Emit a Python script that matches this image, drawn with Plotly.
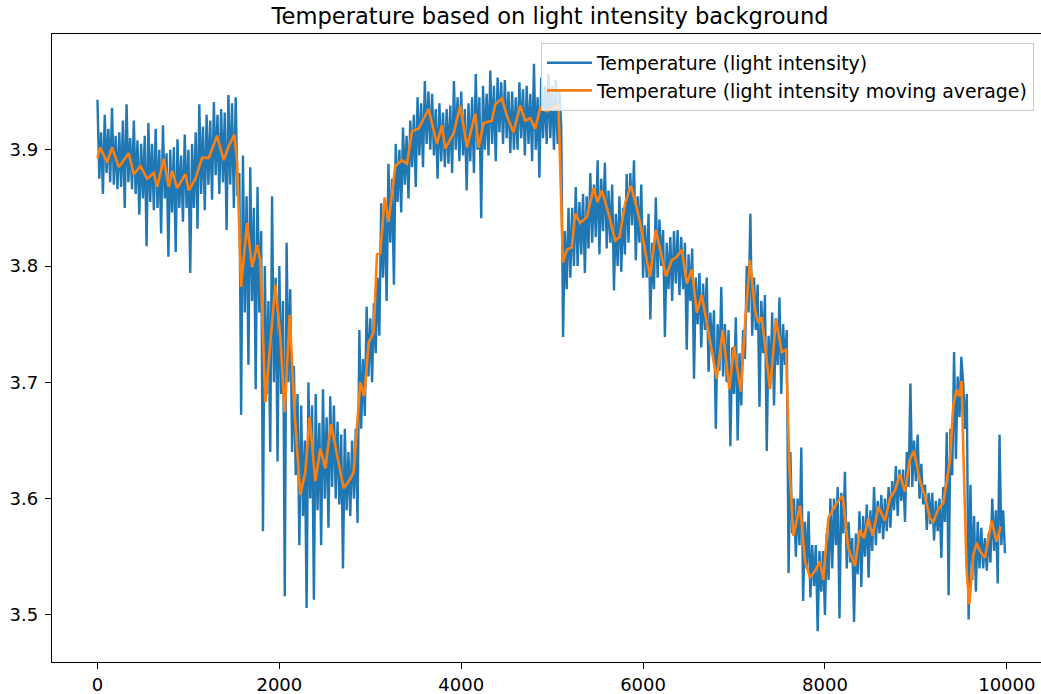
import plotly.graph_objects as go

# Sample index of the raw readings (every 20th sample)
raw_index = list(range(0, 10000, 20))

# Temperature readings derived from the light-intensity background
temp_raw = [
    3.943, 3.875, 3.915, 3.862, 3.930, 3.880, 3.918, 3.872, 3.936, 3.870, 3.912, 3.866,
    3.915, 3.868, 3.925, 3.850, 3.939, 3.872, 3.910, 3.866, 3.925, 3.862, 3.908, 3.844,
    3.905, 3.858, 3.912, 3.817, 3.923, 3.855, 3.905, 3.848, 3.918, 3.850, 3.900, 3.828,
    3.921, 3.858, 3.897, 3.808, 3.900, 3.846, 3.902, 3.812, 3.909, 3.850, 3.895, 3.838,
    3.913, 3.850, 3.900, 3.794, 3.905, 3.850, 3.915, 3.832, 3.939, 3.862, 3.920, 3.848,
    3.930, 3.870, 3.925, 3.857, 3.941, 3.878, 3.930, 3.862, 3.935, 3.872, 3.932, 3.831,
    3.947, 3.870, 3.940, 3.850, 3.945, 3.860, 3.880, 3.672, 3.895, 3.760, 3.860, 3.715,
    3.885, 3.770, 3.850, 3.694, 3.868, 3.760, 3.830, 3.572, 3.800, 3.690, 3.770, 3.640,
    3.860, 3.700, 3.790, 3.632, 3.800, 3.690, 3.770, 3.516, 3.820, 3.700, 3.780, 3.640,
    3.714, 3.620, 3.690, 3.560, 3.680, 3.585, 3.650, 3.506, 3.700, 3.600, 3.680, 3.513,
    3.690, 3.590, 3.665, 3.560, 3.694, 3.600, 3.670, 3.575, 3.688, 3.610, 3.680, 3.600,
    3.666, 3.595, 3.655, 3.540, 3.660, 3.590, 3.640, 3.585, 3.650, 3.600, 3.660, 3.579,
    3.745, 3.660, 3.720, 3.671, 3.765, 3.705, 3.755, 3.700, 3.768, 3.725, 3.790, 3.740,
    3.854, 3.790, 3.850, 3.770, 3.888, 3.820, 3.875, 3.784, 3.905, 3.855, 3.900, 3.846,
    3.919, 3.870, 3.912, 3.858, 3.925, 3.885, 3.930, 3.868, 3.945, 3.895, 3.940, 3.885,
    3.959, 3.905, 3.950, 3.900, 3.948, 3.895, 3.935, 3.875, 3.940, 3.890, 3.932, 3.885,
    3.935, 3.888, 3.938, 3.880, 3.959, 3.900, 3.945, 3.890, 3.950, 3.895, 3.935, 3.865,
    3.940, 3.890, 3.945, 3.880, 3.965, 3.900, 3.945, 3.841, 3.955, 3.900, 3.948, 3.895,
    3.968, 3.905, 3.955, 3.890, 3.962, 3.915, 3.958, 3.905, 3.960, 3.910, 3.950, 3.897,
    3.950, 3.900, 3.945, 3.900, 3.958, 3.910, 3.952, 3.895, 3.955, 3.905, 3.948, 3.890,
    3.974, 3.900, 3.945, 3.876, 3.962, 3.910, 3.955, 3.905, 3.965, 3.910, 3.955, 3.900,
    3.960, 3.905, 3.950, 3.920, 3.739, 3.830, 3.780, 3.850, 3.790, 3.850, 3.800, 3.868,
    3.800, 3.855, 3.810, 3.862, 3.794, 3.860, 3.815, 3.880, 3.820, 3.870, 3.825, 3.891,
    3.810, 3.875, 3.830, 3.889, 3.815, 3.865, 3.820, 3.870, 3.779, 3.845, 3.800, 3.860,
    3.795, 3.850, 3.810, 3.879, 3.820, 3.880, 3.835, 3.891, 3.805, 3.860, 3.820, 3.870,
    3.790, 3.835, 3.790, 3.845, 3.754, 3.820, 3.780, 3.859, 3.790, 3.840, 3.800, 3.831,
    3.739, 3.820, 3.780, 3.825, 3.770, 3.830, 3.785, 3.831, 3.775, 3.825, 3.780, 3.820,
    3.728, 3.810, 3.770, 3.815, 3.703, 3.790, 3.750, 3.794, 3.730, 3.785, 3.745, 3.790,
    3.709, 3.760, 3.725, 3.762, 3.660, 3.750, 3.710, 3.782, 3.705, 3.750, 3.700, 3.745,
    3.645, 3.730, 3.690, 3.756, 3.650, 3.725, 3.680, 3.745, 3.720, 3.800, 3.760, 3.845,
    3.740, 3.790, 3.745, 3.784, 3.679, 3.770, 3.725, 3.775, 3.641, 3.740, 3.700, 3.760,
    3.680, 3.755, 3.715, 3.773, 3.690, 3.750, 3.715, 3.745, 3.536, 3.640, 3.570, 3.600,
    3.550, 3.600, 3.560, 3.644, 3.512, 3.580, 3.540, 3.589, 3.515, 3.560, 3.525, 3.560,
    3.486, 3.555, 3.520, 3.555, 3.500, 3.570, 3.530, 3.600, 3.540, 3.600, 3.560, 3.610,
    3.497, 3.605, 3.570, 3.623, 3.540, 3.580, 3.545, 3.566, 3.494, 3.570, 3.535, 3.589,
    3.524, 3.585, 3.550, 3.595, 3.532, 3.590, 3.555, 3.610, 3.560, 3.598, 3.570, 3.603,
    3.565, 3.600, 3.572, 3.610, 3.575, 3.615, 3.590, 3.628, 3.585, 3.625, 3.598, 3.625,
    3.580, 3.640, 3.610, 3.699, 3.610, 3.650, 3.615, 3.655, 3.600, 3.630, 3.595, 3.612,
    3.573, 3.605, 3.578, 3.605, 3.564, 3.598, 3.572, 3.600, 3.549, 3.610, 3.580, 3.657,
    3.517, 3.660, 3.620, 3.726, 3.634, 3.705, 3.670, 3.722, 3.700, 3.660, 3.690, 3.496,
    3.612, 3.530, 3.585, 3.520, 3.580, 3.540, 3.575, 3.540, 3.566, 3.538, 3.570, 3.545,
    3.600, 3.555, 3.590, 3.527, 3.655, 3.560, 3.590, 3.553,
]

# Moving average of the same signal
ma_index = [
    0, 30, 106, 161, 234, 344, 399, 473, 546, 619, 656, 729, 784, 821, 876, 967, 1004, 1077,
    1150, 1224, 1315, 1388, 1443, 1505, 1535, 1580, 1645, 1700, 1755, 1791, 1846, 1901, 1956,
    2011, 2059, 2114, 2165, 2231, 2286, 2333, 2396, 2451, 2506, 2568, 2634, 2707, 2780, 2817,
    2890, 2934, 2982, 3037, 3074, 3110, 3158, 3202, 3275, 3349, 3404, 3459, 3531, 3641, 3733,
    3788, 3824, 3916, 3989, 4063, 4154, 4191, 4246, 4337, 4374, 4448, 4503, 4575, 4649, 4704,
    4759, 4814, 4869, 4942, 5015, 5070, 5118, 5162, 5217, 5253, 5308, 5382, 5455, 5499, 5547,
    5620, 5693, 5741, 5803, 5866, 5931, 5968, 6041, 6078, 6140, 6187, 6253, 6316, 6371, 6426,
    6481, 6536, 6591, 6646, 6737, 6810, 6876, 6949, 7000, 7074, 7122, 7176, 7231, 7268, 7305,
    7341, 7396, 7462, 7525, 7572, 7609, 7653, 7726, 7781, 7836, 7891, 7946, 7982, 8037, 8111,
    8166, 8195, 8257, 8331, 8385, 8429, 8477, 8525, 8587, 8660, 8715, 8770, 8825, 8880, 8935,
    8979, 9045, 9100, 9155, 9191, 9246, 9301, 9338, 9374, 9411, 9448, 9477, 9503, 9528, 9558,
    9587, 9631, 9668, 9704, 9759, 9833, 9888, 9932,
]
temp_ma = [
    3.893, 3.902, 3.889, 3.902, 3.885, 3.897, 3.879, 3.886, 3.875, 3.880, 3.868, 3.892, 3.868,
    3.882, 3.867, 3.879, 3.865, 3.875, 3.893, 3.893, 3.912, 3.891, 3.903, 3.913, 3.890, 3.782,
    3.837, 3.799, 3.818, 3.805, 3.683, 3.737, 3.784, 3.739, 3.674, 3.758, 3.677, 3.603, 3.623,
    3.670, 3.615, 3.643, 3.626, 3.664, 3.637, 3.609, 3.617, 3.623, 3.700, 3.688, 3.734, 3.743,
    3.810, 3.811, 3.859, 3.838, 3.886, 3.891, 3.888, 3.916, 3.918, 3.935, 3.905, 3.921, 3.901,
    3.914, 3.938, 3.902, 3.931, 3.902, 3.923, 3.925, 3.939, 3.944, 3.929, 3.915, 3.938, 3.925,
    3.927, 3.918, 3.936, 3.933, 3.936, 3.938, 3.803, 3.814, 3.816, 3.845, 3.837, 3.842, 3.867,
    3.855, 3.865, 3.845, 3.822, 3.825, 3.854, 3.869, 3.850, 3.837, 3.805, 3.791, 3.831, 3.814,
    3.791, 3.805, 3.808, 3.814, 3.785, 3.797, 3.760, 3.775, 3.737, 3.703, 3.745, 3.694, 3.731,
    3.692, 3.751, 3.805, 3.762, 3.751, 3.756, 3.731, 3.694, 3.754, 3.726, 3.728, 3.628, 3.568,
    3.594, 3.546, 3.532, 3.538, 3.546, 3.530, 3.583, 3.594, 3.600, 3.602, 3.557, 3.542, 3.573,
    3.566, 3.583, 3.568, 3.593, 3.581, 3.600, 3.607, 3.621, 3.606, 3.634, 3.641, 3.615, 3.602,
    3.583, 3.580, 3.591, 3.596, 3.615, 3.632, 3.680, 3.694, 3.688, 3.701, 3.623, 3.538, 3.509,
    3.551, 3.562, 3.555, 3.549, 3.581, 3.563, 3.576,
]

x_ticks = [0, 2000, 4000, 6000, 8000, 10000]
y_ticks = [3.5, 3.6, 3.7, 3.8, 3.9]

FONT = "DejaVu Sans"

fig = go.Figure()
fig.add_trace(go.Scatter(
    x=raw_index, y=temp_raw, mode="lines",
    name="Temperature (light intensity)",
    line=dict(color="#1f77b4", width=2.4),
))
fig.add_trace(go.Scatter(
    x=ma_index, y=temp_ma, mode="lines",
    name="Temperature (light intensity moving average)",
    line=dict(color="#ff7f0e", width=2.6),
))

axis_common = dict(
    showgrid=False, zeroline=False,
    showline=True, linecolor="black", linewidth=1.4,
    ticks="outside", ticklen=6, tickwidth=1.4, tickcolor="black",
    tickfont=dict(family=FONT, size=18, color="black"),
)

fig.update_layout(
    width=1041, height=694,
    margin=dict(l=52, r=0, t=34, b=32),
    paper_bgcolor="white", plot_bgcolor="white",
    title=dict(
        text="Temperature based on light intensity background",
        font=dict(family=FONT, size=22.6, color="black"),
        x=0.5036, xref="paper", xanchor="center",
        y=1 - 16 / 694, yref="container", yanchor="middle",
    ),
    xaxis=dict(range=[-500, 10376], tickvals=x_ticks,
               ticktext=[str(v) for v in x_ticks], mirror=True, **axis_common),
    yaxis=dict(range=[3.4595, 3.9995], tickvals=y_ticks,
               ticktext=[f"{v:.1f}" for v in y_ticks],
               ticklabelstandoff=3, **axis_common),
    legend=dict(
        x=0.4944, y=0.9857, xanchor="left", yanchor="top",
        bgcolor="rgba(255,255,255,0.8)", bordercolor="#cccccc", borderwidth=1,
        font=dict(family=FONT, size=18.9, color="black"),
        tracegroupgap=0, itemwidth=45,
    ),
    showlegend=True,
)

fig.write_html("out.html")
